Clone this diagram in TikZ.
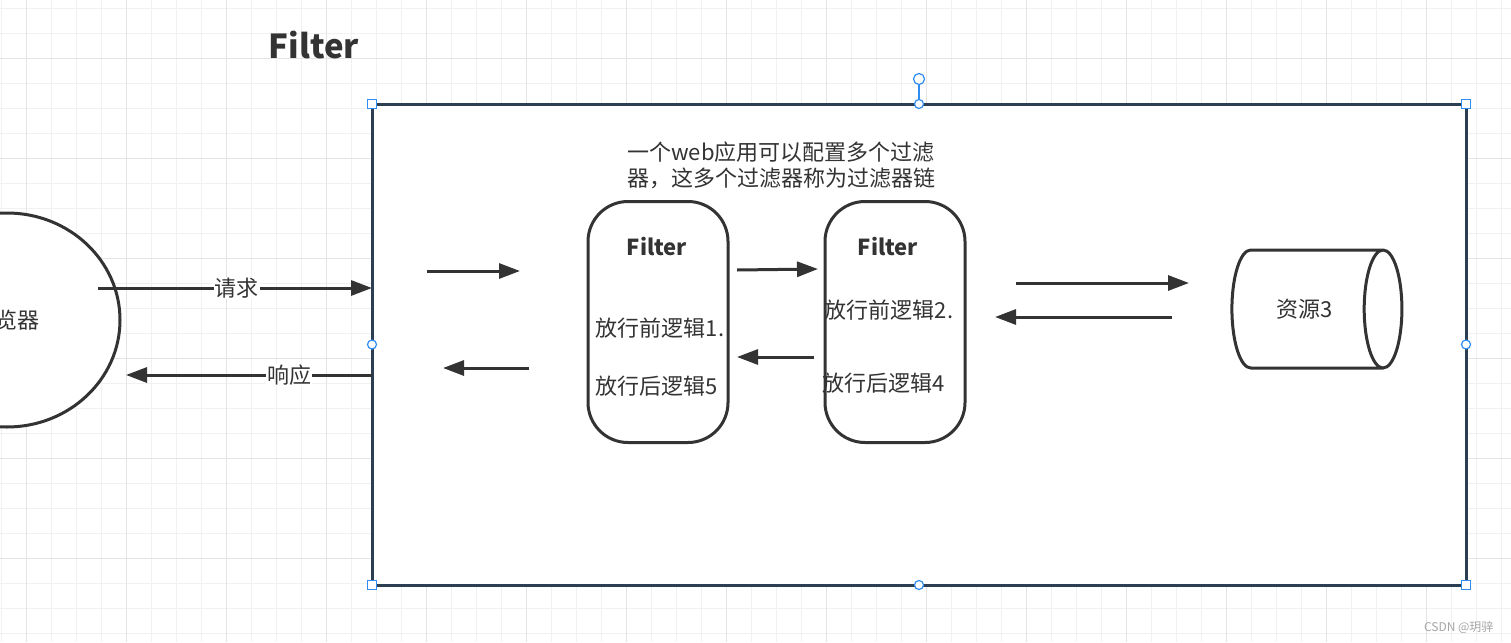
\documentclass[tikz,border=0pt]{standalone}
\usepackage{fontspec}
\setmainfont{Noto Sans CJK SC}
\usetikzlibrary{arrows.meta,shapes.geometric}
\definecolor{ink}{HTML}{333333}
\definecolor{frame}{HTML}{2B3E52}
\definecolor{handle}{HTML}{2F8CF0}
\definecolor{gridminor}{HTML}{F1F1F1}
\definecolor{gridmajor}{HTML}{E4E4E4}
\begin{document}
\begin{tikzpicture}[x=1pt,y=-1pt,
  arr/.style={draw=ink,line width=3pt,-{Triangle[length=21pt,width=15pt]}},
  txt/.style={text=ink,font=\fontsize{22}{26}\selectfont,inner sep=1pt},
  head/.style={text=ink,font=\fontsize{22}{26}\selectfont\bfseries,inner sep=1pt},
  outline/.style={draw=ink,line width=3pt,fill=white},
  sq/.style={draw=handle,fill=white,line width=1.2pt,minimum size=9pt,inner sep=0pt},
  dot/.style={draw=handle,fill=white,line width=1.2pt,circle,minimum size=9pt,inner sep=0pt}]
\useasboundingbox (0,0) rectangle (1511,642);
\clip (0,0) rectangle (1511,642);
\fill[white] (0,0) rectangle (1511,642);
\foreach \x in {1.7,26.7,...,1511} \draw[gridminor,line width=1pt] (\x,0) -- (\x,642);
\foreach \y in {8.3,33.3,...,642} \draw[gridminor,line width=1pt] (0,\y) -- (1511,\y);
\foreach \x in {26.7,126.7,...,1511} \draw[gridmajor,line width=1pt] (\x,0) -- (\x,642);
\foreach \y in {58.3,158.3,...,642} \draw[gridmajor,line width=1pt] (0,\y) -- (1511,\y);

\node[head,font=\fontsize{33}{40}\selectfont\bfseries] (title) at (314,45) {Filter};
\node[outline,ellipse,minimum width=226pt,minimum height=214pt,txt] (browser) at (7,320) {浏览器};
\node[draw=frame,fill=white,line width=3pt,minimum width=1094pt,minimum height=481pt,inner sep=0pt,outer sep=0pt] (web) at (919,344.5) {};

\node[txt,align=center] (note) at (781,165) {一个web应用可以配置多个过滤\\器，这多个过滤器称为过滤器链};

\node[outline,rounded corners=40pt,minimum width=140pt,minimum height=241pt] (f1) at (658,322) {};
\node[head] (f1name) at (657,247) {Filter};
\node[txt] (f1pre) at (660,328) {放行前逻辑1.};
\node[txt] (f1post) at (657,386) {放行后逻辑5};

\node[outline,rounded corners=40pt,minimum width=140pt,minimum height=241pt] (f2) at (895,322) {};
\node[head] (f2name) at (888,247) {Filter};
\node[txt] (f2pre) at (889,310) {放行前逻辑2.};
\node[txt] (f2post) at (884,383) {放行后逻辑4};

\node[outline,cylinder,aspect=1.7,minimum width=118pt,minimum height=170pt,txt] (res) at (1305,309) {资源3};

\coordinate (req) at (98,288);
\coordinate (resp) at (126,375);
\draw[arr] (req) -- (req -| web.west) node[pos=.507,fill=white,txt] {请求};
\draw[arr] (resp -| web.west) -- (resp) node[pos=.337,fill=white,txt] {响应};

\coordinate (a1) at (427,271); \coordinate (a2) at (520,271);
\coordinate (b1) at (529,368); \coordinate (b2) at (443,368);
\coordinate (c1) at (737,270); \coordinate (c2) at (818,269);
\coordinate (d1) at (814,357); \coordinate (d2) at (737,357);
\coordinate (e1) at (1016,283); \coordinate (e2) at (1189,283);
\coordinate (g1) at (1172,317); \coordinate (g2) at (995,317);
\draw[arr] (a1) -- (a2);
\draw[arr] (b1) -- (b2);
\draw[arr] (c1) -- (c2);
\draw[arr] (d1) -- (d2);
\draw[arr] (e1) -- (e2);
\draw[arr] (g1) -- (g2);

\node[dot,minimum size=11pt] (rot) at (919,79) {};
\draw[handle,line width=1.2pt] (rot) -- (web.north);
\foreach \a in {north west,north east,south west,south east} \node[sq] at (web.\a) {};
\foreach \a in {north,south,west,east} \node[dot] at (web.\a) {};

\node[anchor=east,text=gray!70,font=\fontsize{12}{14}\selectfont] (mark) at (1497,627) {CSDN @玥骍};
\end{tikzpicture}
\end{document}
